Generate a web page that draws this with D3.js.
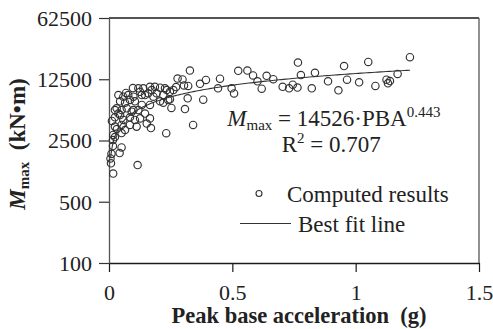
<!DOCTYPE html>
<html>
<head>
<meta charset="utf-8">
<script src="https://cdn.jsdelivr.net/npm/d3@7"></script>
<style>
  html, body { margin: 0; padding: 0; background: #fff; }
  svg { display: block; }
  svg text { font-family: 'Liberation Serif', 'Times New Roman', 'DejaVu Serif', serif; white-space: pre; }
</style>
</head>
<body>
<svg id="chart" width="493" height="329"></svg>
<script>
// Peak base acceleration (g) for each computed case
const pba = [
  0.766, 0.953, 1.051, 1.220, 0.778, 0.835, 0.704, 0.730, 0.745, 0.764,
  0.822, 0.888, 0.930, 0.965, 1.014, 1.080, 1.125, 1.131, 1.139, 1.170,
  0.524, 0.561, 0.584, 0.602, 0.639, 0.666, 0.619, 0.497, 0.507, 0.450,
  0.442, 0.393, 0.369, 0.382, 0.328, 0.278, 0.298, 0.304, 0.321, 0.272,
  0.319, 0.308, 0.253, 0.247, 0.341, 0.232, 0.153, 0.170, 0.166, 0.116,
  0.017, 0.008, 0.006, 0.010, 0.016, 0.024, 0.043, 0.051, 0.051, 0.085,
  0.058, 0.119, 0.139, 0.166, 0.186, 0.207, 0.227, 0.078, 0.099, 0.133,
  0.159, 0.180, 0.220, 0.247, 0.261, 0.045, 0.065, 0.085, 0.105, 0.133,
  0.166, 0.207, 0.240, 0.031, 0.051, 0.072, 0.092, 0.119, 0.146, 0.024,
  0.045, 0.058, 0.085, 0.105, 0.126, 0.024, 0.051, 0.065, 0.112, 0.017,
  0.038, 0.024, 0.038, 0.099, 0.126, 0.146, 0.173, 0.193, 0.234, 0.220,
  0.016, 0.032, 0.012, 0.097, 0.069
];
// Maximum moment M_max (kN·m) for each computed case
const mmax = [
  19400, 17700, 19700, 22300, 13970, 14800, 10260, 9850, 10830, 10060,
  9850, 11840, 9350, 12360, 11530, 10470, 12360, 11240, 11930, 14350,
  15600, 15700, 13800, 11840, 13680, 12520, 9750, 9850, 8600, 12680,
  9850, 12260, 11080, 7310, 15700, 12740, 12450, 10610, 10470, 10190,
  7580, 5720, 5880, 7390, 3760, 3030, 3900, 3470, 4470, 1310,
  1050, 1375, 1560, 1760, 2530, 2740, 1800, 2080, 3040, 3760,
  7900, 9850, 9850, 10260, 10260, 10000, 9850, 8260, 7900, 8260,
  8650, 7900, 8260, 9000, 9420, 7000, 6750, 7250, 7000, 6360,
  6360, 7000, 7250, 5830, 5570, 5830, 5330, 5570, 5070, 4600,
  4880, 4290, 4600, 4290, 4470, 3600, 3760, 3290, 3600, 2890,
  8260, 5570, 5070, 5570, 9000, 8260, 9420, 8650, 9420, 6750,
  2160, 3380, 4180, 9930, 8710
];

// Tick values
const xTicks = [0, 0.5, 1, 1.5];
const xTickLabels = ["0", "0.5", "1", "1.5"];
const yTicks = [100, 500, 2500, 12500, 62500];
const yTickLabels = ["100", "500", "2500", "12500", "62500"];

// Power-law fit M_max = a·PBA^b
const fitA = 14526;
const fitB = 0.443;
const fitR2 = "0.707";
const fitRange = [0.007, 1.22];

const svg = d3.select("#chart");
const plotL = 109, plotR = 479, plotT = 18, plotB = 263;

const x = d3.scaleLinear().domain([0, 1.5]).range([plotL, plotR]);
const y = d3.scaleLog().domain([100, 62500]).range([plotB, plotT]);

// Frame: top and right edges
svg.append("line").attr("x1", plotL).attr("x2", plotR).attr("y1", plotT).attr("y2", plotT)
  .attr("stroke", "#1a1a1a").attr("stroke-width", 1.3);
svg.append("line").attr("x1", plotR).attr("x2", plotR).attr("y1", plotT).attr("y2", plotB)
  .attr("stroke", "#555").attr("stroke-width", 1.3);

// Axes
const xAxis = d3.axisBottom(x).tickValues(xTicks)
  .tickFormat((d, i) => xTickLabels[i]).tickSize(9).tickSizeOuter(0);
const gx = svg.append("g").attr("transform", `translate(0,${plotB})`).call(xAxis)
  .attr("font-family", null).attr("font-size", null);
gx.select(".domain").attr("stroke", "#1a1a1a").attr("stroke-width", 1.3);
gx.selectAll(".tick line").attr("stroke", "#1a1a1a").attr("stroke-width", 1.2);
gx.selectAll(".tick text").attr("y", 36.5).attr("dy", null)
  .style("font-size", "22px").attr("fill", "#222");

const yAxis = d3.axisLeft(y).tickValues(yTicks)
  .tickFormat((d, i) => yTickLabels[i]).tickSize(10).tickPadding(7).tickSizeOuter(0);
const gy = svg.append("g").attr("transform", `translate(${plotL},0)`).call(yAxis)
  .attr("font-family", null).attr("font-size", null);
gy.select(".domain").attr("stroke", "#555").attr("stroke-width", 1.3);
gy.selectAll(".tick line").attr("stroke", "#333").attr("stroke-width", 1.2);
gy.selectAll(".tick text").attr("dy", "0.34em")
  .style("font-size", "22px").attr("fill", "#222");

// Best fit curve
const fitX = d3.range(0, 201).map(i => fitRange[0] + (fitRange[1] - fitRange[0]) * Math.pow(i / 200, 2));
const line = d3.line().x(d => x(d)).y(d => y(fitA * Math.pow(d, fitB)));
svg.append("path").datum(fitX).attr("d", line)
  .attr("fill", "none").attr("stroke", "#333").attr("stroke-width", 1.1);

// Computed results
svg.append("g").selectAll("circle").data(pba.map((p, i) => [p, mmax[i]]))
  .join("circle")
  .attr("cx", d => x(d[0])).attr("cy", d => y(d[1])).attr("r", 3.7)
  .attr("fill", "none").attr("stroke", "#333").attr("stroke-width", 1.15);

// Fit equation
const eq = svg.append("text").attr("x", 227.3).attr("y", 125.7)
  .style("font-size", "23px").attr("fill", "#222");
eq.append("tspan").style("font-style", "italic").text("M");
eq.append("tspan").style("font-size", "15px").attr("dy", 4).text("max");
eq.append("tspan").attr("dy", -4).text(" = " + fitA + "·PBA");
eq.append("tspan").style("font-size", "15px").attr("dy", -9).text(fitB.toFixed(3));

const r2 = svg.append("text").attr("x", 281.7).attr("y", 152)
  .style("font-size", "23px").attr("fill", "#222");
r2.append("tspan").text("R");
r2.append("tspan").style("font-size", "15px").attr("dy", -9).text("2");
r2.append("tspan").attr("dy", 9).text(" = " + fitR2);

// Legend
svg.append("circle").attr("cx", 259).attr("cy", 193.5).attr("r", 3)
  .attr("fill", "none").attr("stroke", "#333").attr("stroke-width", 1.1);
svg.append("text").attr("x", 287).attr("y", 201.5).style("font-size", "23px")
  .attr("fill", "#222").text("Computed results");
svg.append("line").attr("x1", 240).attr("x2", 291).attr("y1", 223.5).attr("y2", 223.5)
  .attr("stroke", "#333").attr("stroke-width", 1.1);
svg.append("text").attr("x", 298).attr("y", 231.5).style("font-size", "23px")
  .attr("fill", "#222").text("Best fit line");

// Axis titles
svg.append("text").attr("x", 299).attr("y", 322.5).attr("text-anchor", "middle")
  .style("font-size", "22.5px").style("font-weight", "bold").attr("fill", "#222")
  .text("Peak base acceleration  (g)");

const yt = svg.append("text").attr("transform", "translate(25,144) rotate(-90)")
  .attr("text-anchor", "middle").style("font-size", "23px").style("font-weight", "bold")
  .attr("fill", "#222");
yt.append("tspan").style("font-style", "italic").text("M");
yt.append("tspan").style("font-size", "15px").attr("dy", 4).text("max");
yt.append("tspan").attr("dy", -4).text("  (kN•m)");
</script>
</body>
</html>
